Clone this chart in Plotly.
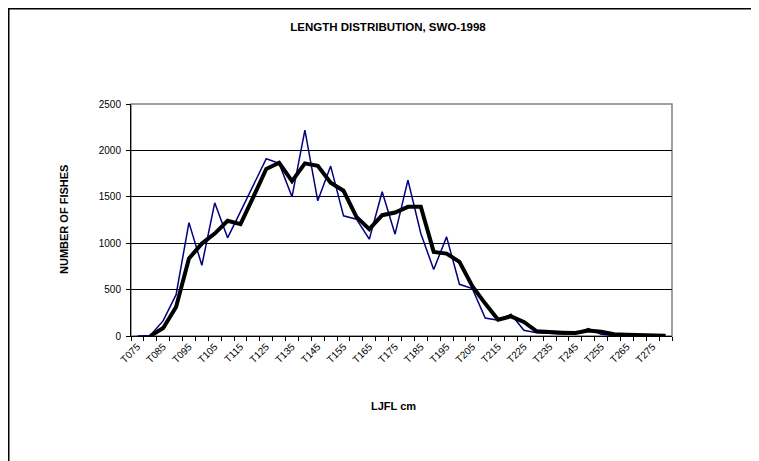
import plotly.graph_objects as go

# length classes (5 cm), T075 .. T280
classes = ["T075", "T080", "T085", "T090", "T095", "T100", "T105", "T110", "T115", "T120",
           "T125", "T130", "T135", "T140", "T145", "T150", "T155", "T160", "T165", "T170",
           "T175", "T180", "T185", "T190", "T195", "T200", "T205", "T210", "T215", "T220",
           "T225", "T230", "T235", "T240", "T245", "T250", "T255", "T260", "T265", "T270",
           "T275", "T280"]

# raw counts (thin blue line)
fishes = [0, 5, 165, 445, 1222, 762, 1435, 1058, 1340, 1630,
          1910, 1860, 1500, 2219, 1457, 1831, 1295, 1259, 1043, 1554,
          1097, 1680, 1104, 716, 1068, 557, 511, 194, 169, 234,
          61, 36, 25, 22, 28, 79, 18, 5, 4, 3,
          2, 1]

# smoothed counts (thick black line), starts at T080
smoothed = [None, 0, 86, 313, 835, 996, 1104, 1241, 1205, 1500,
            1800, 1867, 1669, 1860, 1834, 1651, 1565, 1284, 1151, 1302,
            1331, 1392, 1392, 906, 888, 799, 536, 349, 176, 212,
            151, 50, 40, 36, 32, 58, 47, 18, 14, 14,
            10, 4]

idx = list(range(len(classes)))

fig = go.Figure()
fig.add_trace(go.Scatter(x=idx, y=fishes, mode="lines",
                         line=dict(color="#000080", width=1.5), hoverinfo="skip"))
fig.add_trace(go.Scatter(x=idx, y=smoothed, mode="lines",
                         line=dict(color="black", width=4), hoverinfo="skip"))

# the page adds an 8px body margin, so the figure is laid out 8px smaller
FW, FH = 751, 453
L, T, W, H = 123, 96, 541, 232

fig.update_layout(
    width=FW, height=FH,
    margin=dict(l=L, r=FW - L - W, t=T, b=FH - T - H, pad=0),
    paper_bgcolor="white", plot_bgcolor="white",
    showlegend=False,
    font=dict(family="Liberation Sans, Arial", size=10, color="black"),
    title=dict(text="<b>LENGTH DISTRIBUTION, SWO-1998</b>", x=380 / FW, xanchor="center",
               y=1 - 19 / FH, yanchor="middle", font=dict(size=11.5)),
)

fig.update_xaxes(
    range=[-0.5, len(classes) - 0.5],
    tickmode="array", tickvals=idx[::2], ticktext=classes[::2],
    tickangle=-45, ticks="", showgrid=False, zeroline=False,
    showline=True, linecolor="black", linewidth=1,
    minor=dict(tickmode="linear", tick0=-0.5, dtick=1, ticks="outside",
               ticklen=4, tickcolor="black", showgrid=False),
)
fig.update_yaxes(
    range=[0, 2500], dtick=500, ticks="outside", ticklen=4, tickcolor="black",
    ticklabelstandoff=3,
    showgrid=True, gridcolor="black", gridwidth=1, zeroline=False,
    showline=True, linecolor="black", linewidth=1,
)

# plot area border and chart frame
fig.add_shape(type="rect", xref="paper", yref="paper", x0=0, y0=0, x1=1, y1=1,
              line=dict(color="#808080", width=1.5), layer="below")
fig.add_shape(type="rect", xref="paper", yref="paper",
              x0=(0.75 - L) / W, y0=(T + H - 470) / H, x1=(770 - L) / W, y1=(T + H - 0.75) / H,
              line=dict(color="black", width=1.5))

fig.add_annotation(text="<b>NUMBER OF FISHES</b>", xref="paper", yref="paper",
                   x=(56 - L) / W, y=0.5, xanchor="center", yanchor="middle",
                   textangle=-90, showarrow=False, font=dict(size=11))
fig.add_annotation(text="<b>LJFL cm</b>", xref="paper", yref="paper",
                   x=(385 - L) / W, y=(T + H - 398) / H, xanchor="center", yanchor="middle",
                   showarrow=False, font=dict(size=11))

fig.write_html("out.html")
